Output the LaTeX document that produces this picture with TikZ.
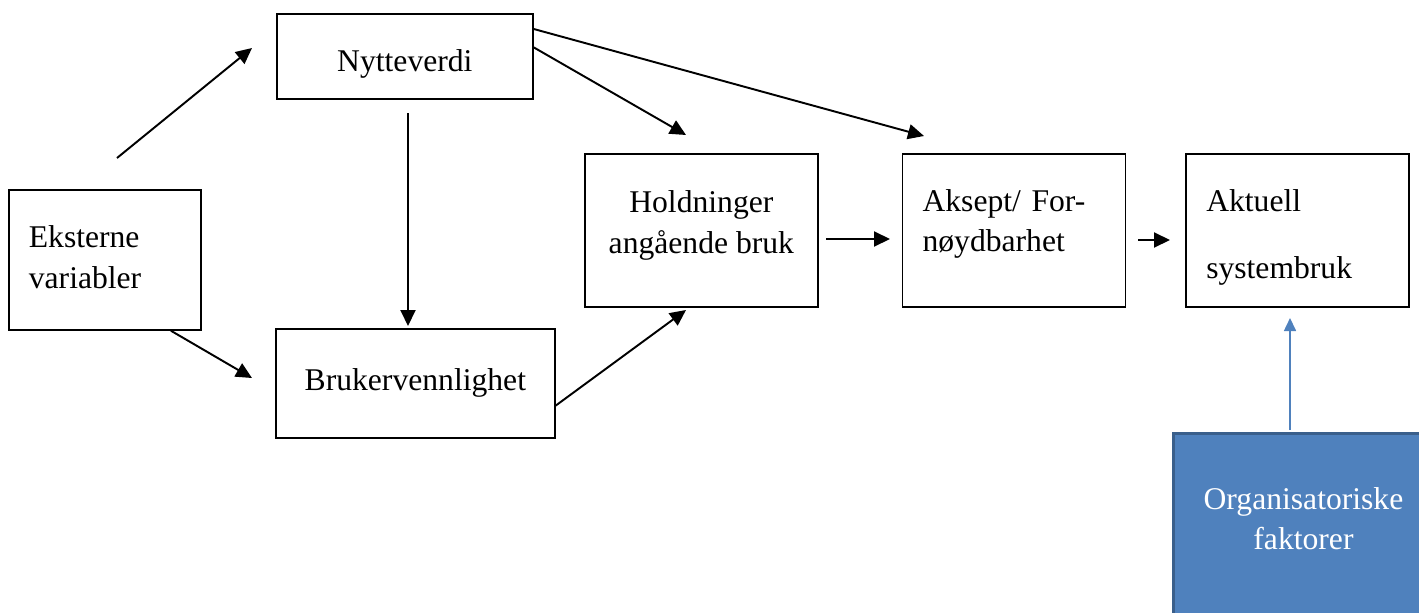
\documentclass[tikz,border=0pt]{standalone}
\usepackage{fontspec}
\setmainfont{Liberation Serif}
\usepackage{xcolor}
\usetikzlibrary{arrows.meta, positioning}

\definecolor{orgblue}{HTML}{4F81BD}
\definecolor{orgline}{HTML}{3A5F8B}

\begin{document}
\begin{tikzpicture}[
    x=0.02cm, y=-0.02cm,
    node distance=1.7cm,
    box/.style={rectangle, draw=black, line width=1pt, inner sep=0pt, align=center, font=\fontsize{18}{23}\selectfont},
    leftbox/.style={box, inner xsep=0.4cm, align=left},
    orgbox/.style={rectangle, draw=orgline, line width=1.7pt, fill=orgblue, text=white, inner sep=0pt, align=center, font=\fontsize{18}{23}\selectfont},
    arrow/.style={-{Triangle[length=0.32cm, width=0.3cm]}, line width=1.1pt},
    bluearrow/.style={-{Triangle[length=0.26cm, width=0.24cm]}, line width=0.9pt, draw=orgblue, color=orgblue}
]
\useasboundingbox (0,0) rectangle (1419,612);
\clip (0,0) rectangle (1419,612);

\node[leftbox, anchor=north west, text width=3.04cm, minimum height=2.8cm, text depth=0.92cm] (eks) at (8,189) {Eksterne\\variabler};
\node[box, anchor=north west, minimum width=5.12cm, minimum height=1.7cm, text height=0.6cm, text depth=0cm] (nytte) at (276,13) {Nytteverdi};
\node[box, anchor=north west, minimum width=5.58cm, minimum height=2.18cm] (bruk) at (275,328) {Brukervennlighet};
\node[box, anchor=north west, minimum width=4.66cm, minimum height=3.06cm, text depth=0.34cm] (hold) at (584,153) {Holdninger\\angående bruk};
\node[leftbox, right=1.66cm of hold, text width=3.66cm, minimum height=3.06cm, text depth=1.2cm] (aksept) {Aksept/ For-\\nøydbarhet};
\node[leftbox, right=1.18cm of aksept, text width=3.66cm, minimum height=3.06cm, text depth=1.18cm] (aktuell) {Aktuell\\[0.53cm]systembruk};
\node[orgbox, anchor=north west, minimum width=5.2cm, text height=2.32cm, text depth=4cm] (org) at (1172,432) {Organisatoriske\\faktorer};

% free ends
\coordinate (a1s) at (117,158);
\coordinate (a1e) at (252,48);
\coordinate (a2e) at (252,378);
\coordinate (a3s) at (408,113);
\coordinate (a3e) at (408,326);
\coordinate (a4e) at (686,135);
\coordinate (a5e) at (924,136);
\coordinate (a6e) at (686,310);
\coordinate (a7s) at (826,239);
\coordinate (a7e) at (890,239);
\coordinate (a8s) at (1138,240);
\coordinate (a8e) at (1170,240);
\coordinate (a9s) at (1290,430);
\coordinate (a9e) at (1290,318);

\draw[arrow] (a1s) -- (a1e);
\draw[arrow] (eks.-47) -- (a2e);
\draw[arrow] (a3s) -- (a3e);
\draw[arrow] (nytte.4) -- (a4e);
\draw[arrow] (nytte.12) -- (a5e);
\draw[arrow] (bruk.-9) -- (a6e);
\draw[arrow] (a7s) -- (a7e);
\draw[arrow] (a8s) -- (a8e);
\draw[bluearrow] (a9s) -- (a9e);
\end{tikzpicture}
\end{document}
